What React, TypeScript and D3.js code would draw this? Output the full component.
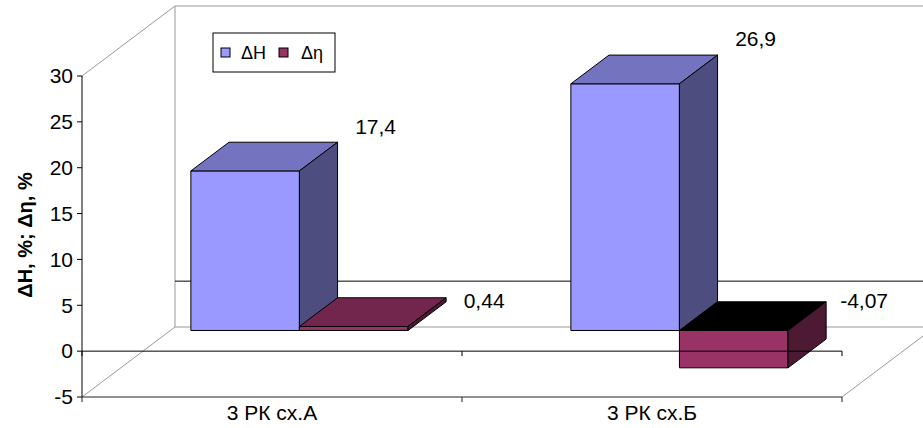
import React from "react";
import * as d3 from "d3";

const categories = ["3 РК сх.А", "3 РК сх.Б"];
const seriesNames = ["ΔH", "Δη"];
const deltaH = [17.4, 26.9];
const deltaEta = [0.44, -4.07];
const yTicks = [-5, 0, 5, 10, 15, 20, 25, 30];
const yTitle = "ΔH, %; Δη, %";

const W = 923;
const H = 428;
const DX = 93;
const DY = -70;
const D0 = 0.295;
const D1 = 0.705;
const FONT = "'Liberation Sans', Arial, sans-serif";

const colors = [
  { front: "#9999FF", top: "#7373BF", side: "#4D4D80" },
  { front: "#993366", top: "#73264D", side: "#4D1A33" },
];

export default function App() {
  const y = d3.scaleLinear().domain([-5, 30]).range([397, 76]);
  const x = d3.scaleBand<string>().domain(categories).range([82, 842]);
  const bw = x.bandwidth() / 3.5;
  const x0 = 82;
  const x1 = 842;
  const P = (px: number, v: number, d: number): [number, number] => [px + d * DX, y(v) + d * DY];
  const poly = (pts: [number, number][]) => pts.map((p) => p.join(",")).join(" ");
  const line = (a: [number, number], b: [number, number], stroke: string, key: string) => (
    <line key={key} x1={a[0]} y1={a[1]} x2={b[0]} y2={b[1]} stroke={stroke} strokeWidth={1} />
  );
  const series = [deltaH, deltaEta];
  const fmt = (v: number) => String(v).replace(".", ",");

  const bars: React.ReactNode[] = [];
  const labels: React.ReactNode[] = [];
  categories.forEach((c, i) => {
    series.forEach((vals, j) => {
      const v = vals[i];
      const bx0 = (x(c) as number) + bw * (0.75 + j);
      const bx1 = bx0 + bw;
      const hi = Math.max(0, v);
      const lo = Math.min(0, v);
      const col = colors[j];
      bars.push(
        <g key={`b${i}-${j}`} stroke="#000" strokeWidth={1} strokeLinejoin="round">
          <polygon points={poly([P(bx0, hi, D0), P(bx1, hi, D0), P(bx1, lo, D0), P(bx0, lo, D0)])} fill={col.front} />
          <polygon points={poly([P(bx0, hi, D0), P(bx1, hi, D0), P(bx1, hi, D1), P(bx0, hi, D1)])} fill={v < 0 ? "#000" : col.top} />
          <polygon points={poly([P(bx1, hi, D0), P(bx1, hi, D1), P(bx1, lo, D1), P(bx1, lo, D0)])} fill={col.side} />
        </g>
      );
      const br = P(bx1, hi, D1);
      const ly = Math.abs(v) >= 5 ? br[1] - 16 : P(bx1, 0, D1)[1] - 1;
      labels.push(
        <text key={`l${i}-${j}`} x={br[0] + 38} y={ly} dy="0.35em" textAnchor="middle" fontSize={21} fontFamily={FONT} fill="#000">
          {fmt(v)}
        </text>
      );
    });
  });

  const gray = "#999";
  return (
    <svg width={W} height={H} style={{ position: "absolute", left: 0, top: 0, background: "#fff" }}>
      <rect x={0} y={0} width={W} height={H} fill="#fff" />
      {/* walls */}
      {line(P(x0, 30, 0), P(x0, 30, 1), gray, "w1")}
      {line(P(x0, -5, 0), P(x0, -5, 1), gray, "w2")}
      {line(P(x0, 30, 1), P(x0, -5, 1), gray, "w3")}
      {line(P(x0, 30, 1), P(x1, 30, 1), gray, "w4")}
      {line(P(x0, -5, 1), P(x1, -5, 1), gray, "w5")}
      {line(P(x1, -5, 0), P(x1, -5, 1), gray, "w6")}
      {line(P(x1, 30, 1), P(x1, -5, 1), gray, "w7")}
      {line(P(x0, 0, 1), P(x1, 0, 1), "#000", "g0")}
      {bars}
      {/* front axes */}
      {line([x0, y(30)], [x0, y(-5)], "#000", "ya")}
      {yTicks.map((t) => line([x0 - 5, y(t)], [x0, y(t)], "#000", `yt${t}`))}
      {line([x0, y(0)], [x1, y(0)], "#000", "xa")}
      {line([x0, y(-5)], [x1, y(-5)], "#222", "xb")}
      {[x0, ...categories.map((c) => (x(c) as number) + x.bandwidth())].map((px, k) => (
        <g key={`xt${k}`}>
          {line([px, y(0)], [px, y(0) + 5], "#000", "a")}
          {line([px, y(-5)], [px, y(-5) + 5], "#222", "b")}
        </g>
      ))}
      {yTicks.map((t) => (
        <text key={`yl${t}`} x={73} y={y(t)} dy="0.35em" textAnchor="end" fontSize={21} fontFamily={FONT} fill="#000">
          {t}
        </text>
      ))}
      {categories.map((c) => (
        <text key={`c${c}`} x={(x(c) as number) + x.bandwidth() / 2} y={413} dy="0.35em" textAnchor="middle" fontSize={21} fontFamily={FONT} fill="#000">
          {c}
        </text>
      ))}
      <text transform="translate(25,235) rotate(-90)" dy="0.35em" textAnchor="middle" fontSize={20} fontWeight="bold" fontFamily={FONT} fill="#000">
        {yTitle}
      </text>
      {labels}
      {/* legend */}
      <g>
        <rect x={213} y={33} width={122} height={39} fill="#fff" stroke="#000" strokeWidth={1} />
        {seriesNames.map((s, j) => (
          <g key={`lg${s}`}>
            <rect x={221 + j * 58} y={48} width={9} height={9} fill={colors[j].front} stroke="#000" strokeWidth={1} />
            <text x={241 + j * 60} y={52.5} dy="0.35em" fontSize={18} fontFamily={FONT} fill="#000">
              {s}
            </text>
          </g>
        ))}
      </g>
    </svg>
  );
}
